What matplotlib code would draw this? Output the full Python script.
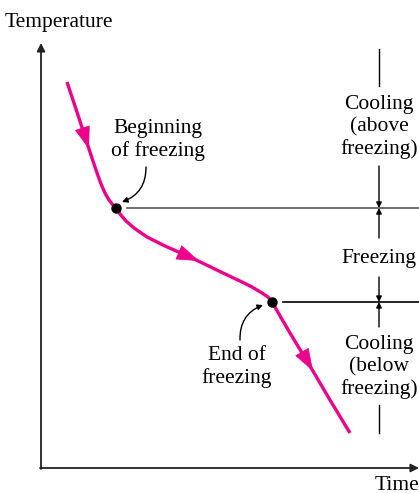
import matplotlib.pyplot as plt
from matplotlib.patches import FancyArrowPatch

# cooling curve (time, temperature in figure units)
time = [67, 77, 87, 96, 101, 105, 109, 113, 116, 120, 126, 134, 147, 165, 190, 223, 240, 252, 262, 268, 272, 290, 310, 330, 350]
temp = [411, 381, 350, 323, 309, 300, 293, 288, 285, 279, 272, 265, 256, 247, 236, 220, 212, 206, 200, 196, 191, 160, 127, 93, 60]

# direction arrows on the curve (tail -> head)
arrow_tails = [(82, 366), (178, 241), (302, 141)]
arrow_heads = [(89, 344), (199, 232), (313, 122)]

# key points
begin_pt = (116, 285)
end_pt = (272, 191)

# stage labels on the right side
stage_labels = ["Cooling\n(above\nfreezing)", "Freezing", "Cooling\n(below\nfreezing)"]
stage_y = [366, 235, 126]

pink = '#ec008c'
plt.rcParams['font.family'] = ['Liberation Serif', 'DejaVu Serif']
fs = 15.5
ls = 1.2

fig = plt.figure(figsize=(4.19, 4.93), dpi=100)
ax = fig.add_axes([0, 0, 1, 1])
ax.set_xlim(0, 419)
ax.set_ylim(0, 493)
ax.axis('off')

# axes with arrows
ax.annotate('', xy=(41, 450), xytext=(41, 24),
            arrowprops=dict(arrowstyle='-|>', color='#222', lw=1.3, mutation_scale=12, shrinkA=0, shrinkB=0))
ax.annotate('', xy=(419, 25), xytext=(40, 25),
            arrowprops=dict(arrowstyle='-|>', color='#222', lw=1.3, mutation_scale=12, shrinkA=0, shrinkB=0))
ax.text(5, 471, 'Temperature', fontsize=fs, ha='left', va='center')
ax.text(419, 8, 'Time', fontsize=fs, ha='right', va='center')

# curve
ax.plot(time, temp, color=pink, lw=2.4, solid_capstyle='butt', solid_joinstyle='round')
for t, h in zip(arrow_tails, arrow_heads):
    ax.add_patch(FancyArrowPatch(t, h, arrowstyle='-|>,head_length=0.75,head_width=0.26',
                                 mutation_scale=20, color=pink, lw=0.5, shrinkA=0, shrinkB=0))

ax.plot(*begin_pt, 'o', color='black', ms=6.5)
ax.plot(*end_pt, 'o', color='black', ms=6.5)

# horizontal reference lines
ax.plot([127, 419], [begin_pt[1], begin_pt[1]], color='#555', lw=1.2)
ax.plot([283, 419], [end_pt[1], end_pt[1]], color='black', lw=1.2)

# dimension line on the right
xd = 379
ax.plot([xd, xd], [444, 407], color='black', lw=1)
ax.plot([xd, xd], [60, 88], color='black', lw=1)
dim_arrows = [((xd, 327), (xd, begin_pt[1])), ((xd, 255), (xd, begin_pt[1])),
              ((xd, 216), (xd, end_pt[1])), ((xd, 166), (xd, end_pt[1]))]
for a, b in dim_arrows:
    ax.annotate('', xy=b, xytext=a,
                arrowprops=dict(arrowstyle='-|>', color='black', lw=1, mutation_scale=8, shrinkA=0, shrinkB=0))
for lab, y in zip(stage_labels, stage_y):
    ax.text(xd, y, lab, fontsize=fs, ha='center', va='center', linespacing=ls)

# callouts
ax.text(158, 353, 'Beginning\nof freezing', fontsize=fs, ha='center', va='center', linespacing=ls)
ax.annotate('', xy=(122, 291), xytext=(146, 326),
            arrowprops=dict(arrowstyle='-|>', color='black', lw=1, mutation_scale=8,
                            connectionstyle='arc3,rad=-0.35', shrinkA=0, shrinkB=0))
ax.text(237, 126, 'End of\nfreezing', fontsize=fs, ha='center', va='center', linespacing=ls)
ax.annotate('', xy=(263, 188), xytext=(240, 153),
            arrowprops=dict(arrowstyle='-|>', color='black', lw=1, mutation_scale=8,
                            connectionstyle='arc3,rad=-0.35', shrinkA=0, shrinkB=0))

fig.savefig('out.png', dpi=100)
